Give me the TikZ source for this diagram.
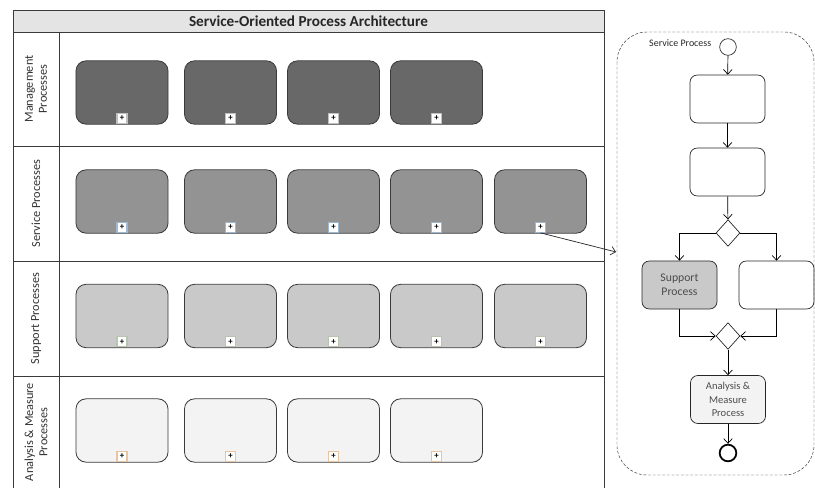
\documentclass[tikz,border=0pt]{standalone}
\usepackage{fontspec}
\setmainfont{Carlito}
\usetikzlibrary{shapes.geometric, arrows.meta, positioning}
\definecolor{mgmtgray}{HTML}{686868}
\definecolor{servgray}{HTML}{939393}
\definecolor{suppgray}{HTML}{C9C9C9}
\definecolor{anagray}{HTML}{F3F3F3}
\definecolor{bandgray}{HTML}{E4E4E4}
\definecolor{linegray}{HTML}{3A3A3A}
\definecolor{flagblue}{HTML}{9DB8D0}
\definecolor{flaggreen}{HTML}{B9C4B0}
\definecolor{flagorange}{HTML}{E8C4A0}

\tikzset{
  procbox/.style={draw=linegray, rounded corners=0.3cm, minimum width=2.76cm, minimum height=1.9cm, line width=0.7pt},
  subflag/.style={draw=#1, fill=white, minimum size=0.3cm, inner sep=0pt, line width=0.9pt, font=\fontsize{7.5}{7.5}\selectfont\bfseries, anchor=south},
  flowbox/.style={draw=black!85, rounded corners=0.22cm, minimum width=2.25cm, minimum height=1.44cm, align=center, font=\fontsize{10}{12}\selectfont, text=black!70, semithick},
  gate/.style={draw=black!85, diamond, minimum width=0.72cm, minimum height=0.8cm, inner sep=0pt, semithick},
  flow/.style={-{Straight Barb[length=1.4mm, width=2.6mm]}, semithick},
  lanelabel/.style={rotate=90, align=center, font=\fontsize{10.5}{12}\selectfont, text=black!80},
}

\begin{document}
\begin{tikzpicture}[x=0.03cm, y=-0.03cm]
\useasboundingbox (0,0) rectangle (815,488);

% pool and lanes
\draw[fill=bandgray, draw=linegray] (13,10) rectangle (604,32);
\node[font=\fontsize{13}{15}\selectfont\bfseries, text=black!85] (title) at (308.5,21) {Service-Oriented Process Architecture};
\draw[linegray, thick] (13,488) -- (13,32) (604,488) -- (604,32);
\draw[linegray] (59,32) -- (59,488);
\foreach \yy in {146,261,376}
  \draw[linegray] (13,\yy) -- (604,\yy);

\node[lanelabel] (mgmtlbl) at (36,89) {Management\\Processes};
\node[lanelabel] (servlbl) at (36,203.5) {Service Processes};
\node[lanelabel] (supplbl) at (36,318.5) {Support Processes};
\node[lanelabel] (analbl) at (36,432) {Analysis \& Measure\\Processes};

% process boxes with sub-process flags
\foreach \i/\xx in {1/122,2/230.5,3/333.5,4/436.5} {
  \node[procbox, fill=mgmtgray] (mgmt\i) at (\xx,92.5) {};
  \node[subflag=black!25] (mgmt\i f) at ([yshift=0.6pt]mgmt\i.south) {+};
}
\foreach \i/\xx in {1/122,2/230.5,3/333.5,4/436.5,5/540.5} {
  \node[procbox, fill=servgray] (serv\i) at (\xx,201.5) {};
  \node[subflag=flagblue] (serv\i f) at ([yshift=0.6pt]serv\i.south) {+};
}
\foreach \i/\xx in {1/122,2/230.5,3/333.5,4/436.5,5/540.5} {
  \node[procbox, fill=suppgray] (supp\i) at (\xx,316) {};
  \node[subflag=flaggreen] (supp\i f) at ([yshift=0.6pt]supp\i.south) {+};
}
\foreach \i/\xx in {1/122,2/230.5,3/333.5,4/436.5} {
  \node[procbox, fill=anagray] (ana\i) at (\xx,430.5) {};
  \node[subflag=flagorange] (ana\i f) at ([yshift=0.6pt]ana\i.south) {+};
}

% expanded service process
\draw[black!80, dash pattern=on 2.5pt off 1.5pt, rounded corners=0.9cm] (617,32) rectangle (814,475);
\coordinate (entry) at (616,252);
\draw[flow, black!85] (serv5f.south) -- (entry);

\node[circle, draw=black!80, semithick, minimum size=0.5cm, inner sep=0pt] (start) at (728,47) {};
\node[left=0.12cm of start, yshift=3pt, font=\fontsize{8.5}{10}\selectfont, text=black!85] (splabel) {Service Process};
\node[flowbox] (taskA) at (727.5,99) {};
\node[flowbox] (taskB) at (727.5,172) {};
\node[gate] (split) at (728,233) {};
\node[flowbox, fill=suppgray] (support) at (679.5,285) {Support\\Process};
\node[flowbox] (taskC) at (776.5,285) {};
\node[gate] (join) at (728,336) {};
\node[flowbox, fill=anagray, font=\fontsize{9}{11.5}\selectfont] (analysis) at (728,399.5) {Analysis \&\\Measure\\Process};
\node[circle, draw=black, line width=1.5pt, minimum size=0.5cm, inner sep=0pt] (stop) at (728,453) {};

\draw[flow] (start) -- (taskA);
\draw[flow] (taskA) -- (taskB);
\draw[flow] (taskB) -- (split);
\draw[flow] (split.west) -| (support.north);
\draw[flow] (split.east) -| (taskC.north);
\draw[flow] (support.south) |- (join.west);
\draw[flow] (taskC.south) |- (join.east);
\draw[flow] (join) -- (analysis);
\draw[flow] (analysis) -- (stop);
\end{tikzpicture}
\end{document}
